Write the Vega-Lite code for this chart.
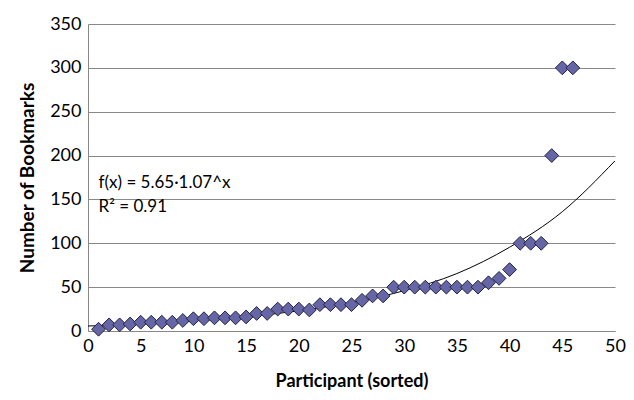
{
  "$schema": "https://vega.github.io/schema/vega-lite/v6.json",
  "width": 527,
  "height": 307,
  "autosize": {"type": "none"},
  "padding": {"left": 88, "top": 24, "right": 19, "bottom": 69},
  "background": "white",
  "config": {
    "font": "Lato",
    "view": {"stroke": null},
    "axis": {
      "labelFont": "Lato",
      "titleFont": "Lato",
      "labelColor": "#000000",
      "titleColor": "#000000",
      "domainColor": "#888888",
      "gridColor": "#888888",
      "gridOpacity": 1,
      "ticks": false
    }
  },
  "datasets": {
    "bookmarks": [
      {"participant": 1, "bookmarks": 2},
      {"participant": 2, "bookmarks": 7},
      {"participant": 3, "bookmarks": 7},
      {"participant": 4, "bookmarks": 8},
      {"participant": 5, "bookmarks": 10},
      {"participant": 6, "bookmarks": 10},
      {"participant": 7, "bookmarks": 10},
      {"participant": 8, "bookmarks": 10},
      {"participant": 9, "bookmarks": 12},
      {"participant": 10, "bookmarks": 14},
      {"participant": 11, "bookmarks": 14},
      {"participant": 12, "bookmarks": 15},
      {"participant": 13, "bookmarks": 15},
      {"participant": 14, "bookmarks": 15},
      {"participant": 15, "bookmarks": 16},
      {"participant": 16, "bookmarks": 20},
      {"participant": 17, "bookmarks": 20},
      {"participant": 18, "bookmarks": 25},
      {"participant": 19, "bookmarks": 25},
      {"participant": 20, "bookmarks": 25},
      {"participant": 21, "bookmarks": 24},
      {"participant": 22, "bookmarks": 30},
      {"participant": 23, "bookmarks": 30},
      {"participant": 24, "bookmarks": 30},
      {"participant": 25, "bookmarks": 30},
      {"participant": 26, "bookmarks": 35},
      {"participant": 27, "bookmarks": 40},
      {"participant": 28, "bookmarks": 40},
      {"participant": 29, "bookmarks": 50},
      {"participant": 30, "bookmarks": 50},
      {"participant": 31, "bookmarks": 50},
      {"participant": 32, "bookmarks": 50},
      {"participant": 33, "bookmarks": 50},
      {"participant": 34, "bookmarks": 50},
      {"participant": 35, "bookmarks": 50},
      {"participant": 36, "bookmarks": 50},
      {"participant": 37, "bookmarks": 50},
      {"participant": 38, "bookmarks": 55},
      {"participant": 39, "bookmarks": 60},
      {"participant": 40, "bookmarks": 70},
      {"participant": 41, "bookmarks": 100},
      {"participant": 42, "bookmarks": 100},
      {"participant": 43, "bookmarks": 100},
      {"participant": 44, "bookmarks": 200},
      {"participant": 45, "bookmarks": 300},
      {"participant": 46, "bookmarks": 300}
    ],
    "trend": [
      {"participant": 0, "fit": 5.7},
      {"participant": 5, "fit": 8.0},
      {"participant": 10, "fit": 11.4},
      {"participant": 15, "fit": 16.2},
      {"participant": 20, "fit": 23.0},
      {"participant": 25, "fit": 32.5},
      {"participant": 30, "fit": 46},
      {"participant": 35, "fit": 65.5},
      {"participant": 40, "fit": 95.5},
      {"participant": 45, "fit": 136},
      {"participant": 50, "fit": 194}
    ],
    "labels": [
      {"participant": 1.0, "y": 169, "text": "f(x) = 5.65·1.07^x"},
      {"participant": 1.0, "y": 141, "text": "R² = 0.91"}
    ]
  },
  "layer": [
    {
      "data": {"name": "trend"},
      "mark": {"type": "line", "color": "#000000", "strokeWidth": 1, "interpolate": "monotone", "clip": true},
      "encoding": {
        "x": {
          "field": "participant", "type": "quantitative",
          "scale": {"domain": [0, 50], "nice": false},
          "axis": {"values": [0, 5, 10, 15, 20, 25, 30, 35, 40, 45, 50], "grid": false, "labelFlush": false, "labelFontSize": 18, "labelPadding": 6, "title": "Participant (sorted)", "titleFontSize": 18, "titleFontWeight": "bold", "titlePadding": 17}
        },
        "y": {
          "field": "fit", "type": "quantitative",
          "scale": {"domain": [0, 350], "nice": false},
          "axis": {"values": [0, 50, 100, 150, 200, 250, 300, 350], "grid": true, "labelFontSize": 18, "labelPadding": 7, "title": "Number of Bookmarks", "titleFontSize": 19, "titleFontWeight": "bold", "titlePadding": 12}
        }
      }
    },
    {
      "data": {"name": "bookmarks"},
      "mark": {"type": "point", "shape": "diamond", "filled": true, "fill": "#6666a6", "stroke": "#222240", "strokeWidth": 1, "size": 190, "opacity": 1},
      "encoding": {
        "x": {"field": "participant", "type": "quantitative"},
        "y": {"field": "bookmarks", "type": "quantitative"}
      }
    },
    {
      "data": {"name": "labels"},
      "mark": {"type": "text", "align": "left", "baseline": "middle", "fontSize": 17, "font": "Lato", "color": "#000000"},
      "encoding": {
        "x": {"field": "participant", "type": "quantitative"},
        "y": {"field": "y", "type": "quantitative"},
        "text": {"field": "text"}
      }
    }
  ]
}
